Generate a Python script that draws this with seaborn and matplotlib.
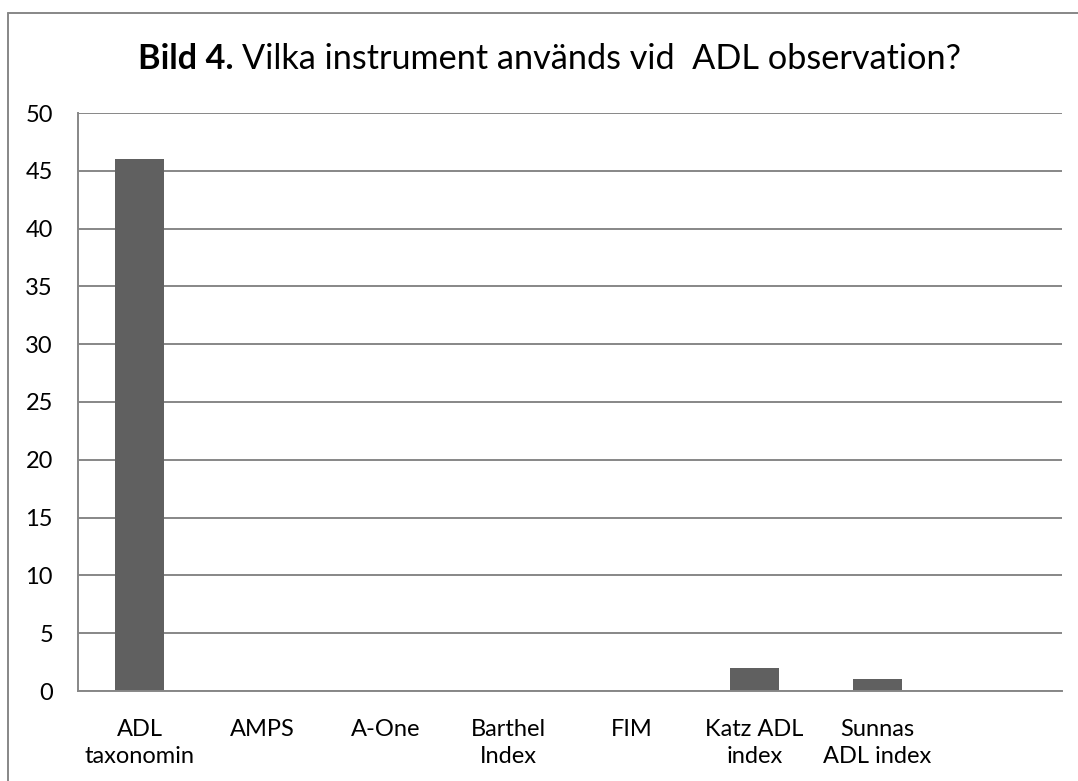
import matplotlib
matplotlib.use("Agg")
import matplotlib.pyplot as plt
from matplotlib.lines import Line2D
import seaborn as sns
import pandas as pd

categories = ["ADL\ntaxonomin", "AMPS", "A-One", "Barthel\nIndex", "FIM",
              "Katz ADL\nindex", "Sunnas\nADL index"]
values = [46, 0, 0, 0, 0, 2, 1]
y_ticks = [0, 5, 10, 15, 20, 25, 30, 35, 40, 45, 50]
title_bold = "Bild 4."
title_rest = "Vilka instrument används vid  ADL observation?"

sns.set_theme(style="white")
plt.rcParams['font.family'] = ['Lato', 'DejaVu Sans']

W, H = 1078, 781
fig = plt.figure(figsize=(W / 100, H / 100), dpi=100)
ax = fig.add_axes([78 / W, 1 - 691 / H, (1062 - 78) / W, (691 - 113) / H])

df = pd.DataFrame({"cat": categories, "val": values})
sns.barplot(data=df, x="cat", y="val", color="#606060", width=0.4,
            saturation=1, ax=ax, linewidth=0)

ax.set_xlim(-0.5, 7.5)
ax.set_ylim(0, 50)
ax.set_yticks(y_ticks)
ax.set_xlabel("")
ax.set_ylabel("")
ax.yaxis.grid(True, color="#878787", linewidth=1.4)
ax.set_axisbelow(True)
for s in ["top", "right"]:
    ax.spines[s].set_visible(False)
for s in ["left", "bottom"]:
    ax.spines[s].set_color("#878787")
    ax.spines[s].set_linewidth(1.4)
ax.tick_params(axis="y", length=0, pad=18, labelsize=17, labelcolor="black")
ax.tick_params(axis="x", length=0, pad=20, labelsize=17, labelcolor="black")
for lbl in ax.get_xticklabels():
    lbl.set_linespacing(1.35)
    lbl.set_multialignment("center")

# chart area border (left and top visible)
fig.add_artist(Line2D([8 / W, 8 / W], [0, 1 - 13 / H], transform=fig.transFigure,
                      color="#878787", linewidth=1.4))
fig.add_artist(Line2D([8 / W, 1], [1 - 13 / H, 1 - 13 / H], transform=fig.transFigure,
                      color="#878787", linewidth=1.4))

# title in two parts
renderer = fig.canvas.get_renderer()
target_w = 960 - 138
fs = 26
for _ in range(3):
    t1 = fig.text(138 / W, 1 - 69 / H, title_bold, fontsize=fs, fontweight="bold",
                  va="baseline", ha="left", color="black")
    e1 = t1.get_window_extent(renderer)
    sp = fig.text(0, 0, "a a", fontsize=fs)
    sp2 = fig.text(0, 0, "aa", fontsize=fs)
    space_w = sp.get_window_extent(renderer).width - sp2.get_window_extent(renderer).width
    sp.remove(); sp2.remove()
    t2 = fig.text((e1.x1 + space_w) / W, 1 - 69 / H, title_rest, fontsize=fs,
                  va="baseline", ha="left", color="black")
    e2 = t2.get_window_extent(renderer)
    total = e2.x1 - e1.x0
    if abs(total - target_w) < 3:
        break
    t1.remove(); t2.remove()
    fs = fs * target_w / total

fig.savefig("out.png", dpi=100)
